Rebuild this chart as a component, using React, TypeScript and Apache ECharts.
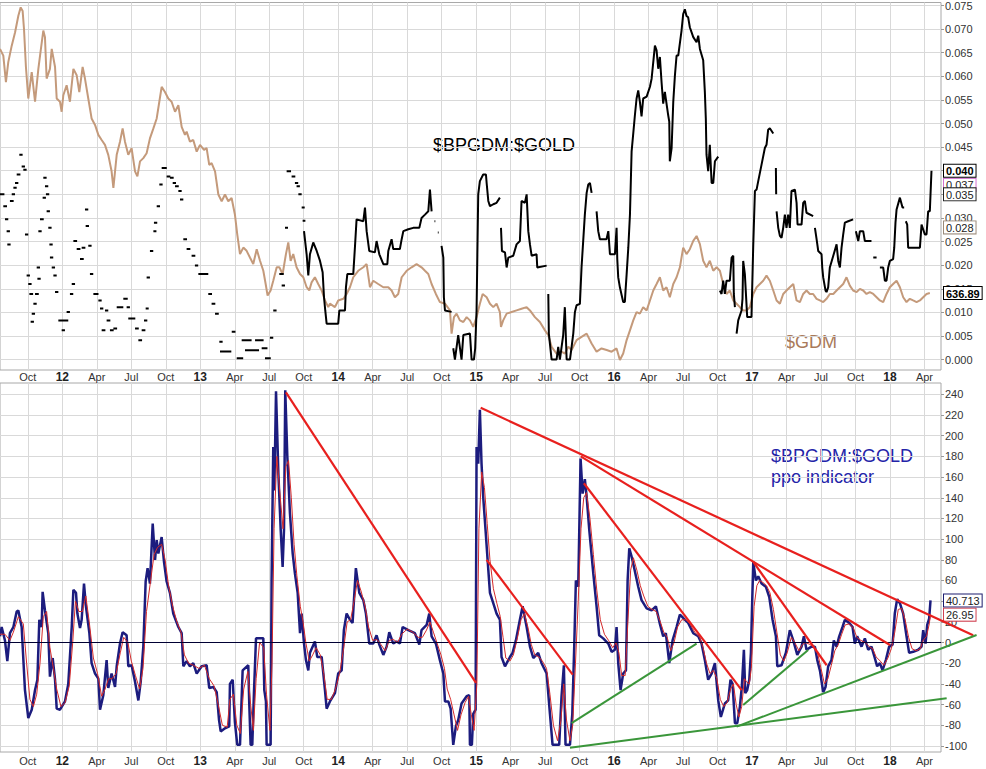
import React, { useEffect, useRef } from 'react';
import * as echarts from 'echarts';

const FONT = '"Liberation Sans", Arial, sans-serif';

// x axis in decimal years
const X_MIN = 2011.548;
const X_MAX = 2018.37;
const xTicks = [2011.75, 2012, 2012.25, 2012.5, 2012.75, 2013, 2013.25, 2013.5, 2013.75, 2014, 2014.25, 2014.5, 2014.75,
  2015, 2015.25, 2015.5, 2015.75, 2016, 2016.25, 2016.5, 2016.75, 2017, 2017.25, 2017.5, 2017.75, 2018, 2018.25];
const monthNames = ['', 'Apr', 'Jul', 'Oct'];

const topTicks = [0, 0.005, 0.01, 0.015, 0.02, 0.025, 0.03, 0.035, 0.04, 0.045, 0.05, 0.055, 0.06, 0.065, 0.07, 0.075];
const topLabelValues = [0, 0.005, 0.01, 0.015, 0.02, 0.025, 0.03, 0.045, 0.05, 0.055, 0.06, 0.065, 0.07, 0.075];
const ppoTicks = [-100, -80, -60, -40, -20, 0, 20, 40, 60, 80, 100, 120, 140, 160, 180, 200, 220, 240];
const ppoLabelValues = [-100, -80, -60, -40, -20, 0, 20, 60, 80, 100, 120, 140, 160, 180, 200, 220, 240];

const priceTagValues = [0.04, 0.037, 0.035, 0.028];
const priceTagLabels = ['0.040', '0.037', '0.035', '0.028'];
const gdmTagValues = [636.89];
const ppoTagValues = [40.713, 26.95];
const ppoTagLabels = ['40.713', '26.95'];

// $BPGDM:$GOLD sparse early prints: [year, value, length]
const bpDashes: [number, number, number][] = [
  [2011.548, 0.035, 0.02], [2011.572, 0.0325, 0.015], [2011.584, 0.0297, 0.012], [2011.596, 0.0272, 0.012], [2011.601, 0.0244, 0.012],
  [2011.62, 0.0336, 0.015], [2011.633, 0.035, 0.012], [2011.645, 0.0364, 0.012], [2011.657, 0.0374, 0.012], [2011.669, 0.0392, 0.015],
  [2011.688, 0.0434, 0.012], [2011.705, 0.0409, 0.012], [2011.717, 0.0402, 0.012], [2011.729, 0.0265, 0.012], [2011.741, 0.0178, 0.012],
  [2011.753, 0.016, 0.012], [2011.761, 0.0139, 0.015], [2011.77, 0.008, 0.012], [2011.778, 0.0097, 0.012], [2011.79, 0.0118, 0.012],
  [2011.802, 0.0139, 0.015], [2011.814, 0.0195, 0.012], [2011.819, 0.0171, 0.012], [2011.826, 0.0272, 0.012], [2011.838, 0.0297, 0.015],
  [2011.857, 0.0343, 0.012], [2011.862, 0.0385, 0.012], [2011.874, 0.0367, 0.012], [2011.881, 0.035, 0.012], [2011.886, 0.0314, 0.012],
  [2011.898, 0.0279, 0.012], [2011.906, 0.0244, 0.012], [2011.91, 0.0216, 0.012], [2011.923, 0.0195, 0.012], [2011.935, 0.0178, 0.012],
  [2011.947, 0.0143, 0.012], [2011.971, 0.0083, 0.06], [2011.995, 0.0062, 0.012], [2012.031, 0.0101, 0.012], [2012.055, 0.0139, 0.012],
  [2012.068, 0.016, 0.012], [2012.08, 0.0251, 0.015], [2012.104, 0.0234, 0.015], [2012.128, 0.0213, 0.015], [2012.14, 0.0237, 0.015],
  [2012.164, 0.0318, 0.012], [2012.169, 0.0283, 0.012], [2012.188, 0.0241, 0.012], [2012.2, 0.0181, 0.012], [2012.225, 0.0139, 0.025],
  [2012.261, 0.0125, 0.012], [2012.273, 0.0108, 0.012], [2012.285, 0.0062, 0.015], [2012.309, 0.0104, 0.012], [2012.321, 0.0083, 0.015],
  [2012.345, 0.0062, 0.015], [2012.37, 0.0066, 0.015], [2012.394, 0.0111, 0.015], [2012.418, 0.0111, 0.012], [2012.442, 0.0129, 0.02],
  [2012.466, 0.0111, 0.012], [2012.478, 0.0087, 0.015], [2012.502, 0.0087, 0.015], [2012.527, 0.0066, 0.015], [2012.551, 0.0041, 0.015],
  [2012.575, 0.0062, 0.015], [2012.592, 0.0083, 0.012], [2012.604, 0.0108, 0.01], [2012.611, 0.0174, 0.012], [2012.635, 0.023, 0.012],
  [2012.66, 0.0272, 0.01], [2012.664, 0.029, 0.012], [2012.684, 0.0325, 0.012], [2012.703, 0.0371, 0.012], [2012.72, 0.0406, 0.025],
  [2012.756, 0.0388, 0.015], [2012.78, 0.0385, 0.015], [2012.8, 0.0374, 0.012], [2012.817, 0.0367, 0.015], [2012.841, 0.0357, 0.012],
  [2012.853, 0.0339, 0.012], [2012.877, 0.0255, 0.015], [2012.901, 0.0234, 0.015], [2012.937, 0.022, 0.015], [2012.961, 0.0199, 0.012],
  [2012.986, 0.0181, 0.06], [2013.058, 0.0139, 0.015], [2013.082, 0.0118, 0.015], [2013.107, 0.0097, 0.015], [2013.138, 0.0038, 0.012],
  [2013.143, 0.0017, 0.07], [2013.228, 0.0059, 0.015], [2013.264, 0.0003, 0.035], [2013.3, 0.0041, 0.06], [2013.324, 0.002, 0.09],
  [2013.397, 0.0041, 0.05], [2013.445, 0.0024, 0.03], [2013.469, 0.0003, 0.03], [2013.505, 0.0046, 0.012], [2013.529, 0.0104, 0.012],
  [2013.573, 0.0181, 0.02], [2013.59, 0.0157, 0.012], [2013.614, 0.0279, 0.01], [2013.626, 0.0399, 0.02], [2013.662, 0.0388, 0.015],
  [2013.686, 0.0374, 0.012], [2013.698, 0.0367, 0.012], [2013.711, 0.035, 0.012], [2013.735, 0.0322, 0.01], [2013.742, 0.0294, 0.008],
];

// $BPGDM:$GOLD continuous prints (null = gap)
const bpMain: ([number, number] | null)[] = [
  [2013.752, 0.0272], [2013.771, 0.0223], [2013.783, 0.0178], [2013.795, 0.0223], [2013.819, 0.0248], [2013.844, 0.023], [2013.868, 0.0209],
  [2013.887, 0.0185], [2013.897, 0.0132], [2013.906, 0.0104], [2013.916, 0.0076], [2014.0, 0.0076], [2014.008, 0.0104], [2014.049, 0.0104],
  [2014.056, 0.0153], [2014.066, 0.0181], [2014.109, 0.0181], [2014.121, 0.0237], [2014.133, 0.0297], [2014.182, 0.0293], [2014.194, 0.0322],
  [2014.206, 0.0272], [2014.225, 0.023], [2014.266, 0.0227], [2014.278, 0.0251], [2014.298, 0.0223], [2014.327, 0.0202], [2014.356, 0.0202],
  [2014.363, 0.023], [2014.387, 0.0255], [2014.399, 0.0234], [2014.447, 0.0234], [2014.46, 0.0255], [2014.472, 0.0272], [2014.508, 0.0276],
  [2014.544, 0.0279], [2014.588, 0.0279], [2014.604, 0.03], [2014.629, 0.0307], [2014.653, 0.0314], [2014.665, 0.036], [2014.677, 0.0314],
  null, [2014.698, 0.0293], [2014.704, 0.0293], null, [2014.722, 0.0269], [2014.728, 0.0269], null,
  [2014.749, 0.0241], [2014.762, 0.0216], [2014.766, 0.0132], [2014.774, 0.0104], [2014.822, 0.0101], null,
  [2014.834, 0.0024], [2014.846, 0.0], [2014.87, 0.0052], [2014.894, 0.0], [2014.907, 0.0052], [2014.955, 0.0055], [2014.967, 0.0],
  [2014.984, 0.0], [2014.993, 0.0024], [2015.003, 0.0104], [2015.015, 0.035], [2015.027, 0.0378], [2015.051, 0.0392], [2015.071, 0.0392],
  [2015.076, 0.0374], [2015.088, 0.0336], [2015.1, 0.0325], [2015.124, 0.0329], [2015.148, 0.0332], [2015.172, 0.0343], null,
  [2015.18, 0.0279], [2015.187, 0.023], [2015.209, 0.0227], [2015.221, 0.0195], [2015.233, 0.0216], [2015.269, 0.022], [2015.293, 0.0244],
  [2015.317, 0.0251], [2015.329, 0.0336], [2015.353, 0.0332], [2015.366, 0.035], [2015.378, 0.0272], [2015.39, 0.0244], [2015.402, 0.022],
  [2015.438, 0.0223], [2015.443, 0.0195], [2015.511, 0.0199], null,
  [2015.523, 0.0139], [2015.527, 0.0055], [2015.547, 0.0], [2015.583, 0.0], [2015.595, 0.0027], [2015.607, 0.0], [2015.631, 0.0052],
  [2015.643, 0.0111], [2015.656, 0.0], [2015.68, 0.0], [2015.692, 0.0027], [2015.704, 0.0055], [2015.716, 0.0101], [2015.728, 0.0115],
  [2015.752, 0.0118], [2015.764, 0.0195], [2015.776, 0.0251], [2015.788, 0.0307], [2015.801, 0.0353], [2015.813, 0.0371], [2015.825, 0.0374],
  [2015.837, 0.0353], null,
  [2015.873, 0.0314], [2015.885, 0.0272], [2015.897, 0.0255], [2015.945, 0.0255], [2015.958, 0.0272], [2015.97, 0.0223], [2016.006, 0.0223],
  [2016.018, 0.0279], [2016.023, 0.0213], [2016.03, 0.0174], [2016.042, 0.0153], [2016.066, 0.0122], [2016.078, 0.0122], [2016.083, 0.0146],
  [2016.091, 0.0181], [2016.103, 0.0237], [2016.115, 0.0307], [2016.127, 0.0441], [2016.139, 0.0479], [2016.151, 0.0518], [2016.163, 0.0553],
  [2016.175, 0.057], [2016.187, 0.0546], [2016.199, 0.0515], [2016.211, 0.0553], [2016.236, 0.0557], [2016.26, 0.0578], [2016.272, 0.0595],
  [2016.284, 0.063], [2016.296, 0.0665], [2016.308, 0.0655], [2016.32, 0.0616], [2016.332, 0.0641], [2016.344, 0.0588], [2016.356, 0.0542],
  [2016.368, 0.0567], [2016.392, 0.0518], [2016.4, 0.0504], [2016.404, 0.042], [2016.417, 0.0448], [2016.429, 0.0546], [2016.441, 0.0602],
  [2016.453, 0.0644], [2016.465, 0.0644], [2016.489, 0.0697], [2016.501, 0.0732], [2016.513, 0.0742], [2016.525, 0.0728], [2016.537, 0.0725],
  [2016.549, 0.0704], [2016.562, 0.0693], [2016.574, 0.0683], [2016.598, 0.0672], [2016.61, 0.0686], [2016.622, 0.0658], [2016.646, 0.0634],
  [2016.658, 0.0567], [2016.665, 0.0511], [2016.67, 0.0434], [2016.682, 0.0399], [2016.694, 0.0455], [2016.707, 0.0374], [2016.719, 0.0374],
  [2016.731, 0.042], [2016.755, 0.043], null,
  [2016.767, 0.0146], [2016.779, 0.0139], [2016.791, 0.0167], [2016.803, 0.0139], [2016.815, 0.0167], [2016.839, 0.0167], [2016.852, 0.0216],
  [2016.864, 0.022], [2016.868, 0.0139], [2016.876, 0.0111], null,
  [2016.888, 0.0055], [2016.9, 0.0083], [2016.924, 0.0104], [2016.931, 0.0129], [2016.936, 0.0209], [2016.948, 0.0181], [2016.965, 0.009],
  [2016.996, 0.009], [2017.009, 0.0244], [2017.021, 0.0357], [2017.033, 0.036], [2017.045, 0.0378], [2017.069, 0.0413], [2017.093, 0.0448],
  [2017.105, 0.0455], [2017.117, 0.0487], [2017.129, 0.049], [2017.154, 0.0479], null,
  [2017.164, 0.0427], [2017.168, 0.0427], null, [2017.173, 0.0406], [2017.175, 0.035], null,
  [2017.178, 0.0314], [2017.19, 0.0279], [2017.202, 0.0262], [2017.214, 0.0258], [2017.226, 0.0279], [2017.238, 0.0307], [2017.25, 0.0279],
  [2017.262, 0.0307], [2017.274, 0.0279], [2017.286, 0.0357], [2017.311, 0.036], [2017.323, 0.0332], [2017.33, 0.0286], [2017.359, 0.0286],
  [2017.371, 0.0332], [2017.383, 0.0336], [2017.395, 0.0311], [2017.443, 0.0304], null,
  [2017.456, 0.0279], [2017.468, 0.0255], [2017.48, 0.023], [2017.504, 0.0223], [2017.509, 0.0195], [2017.516, 0.0174], [2017.533, 0.0146],
  [2017.54, 0.0143], [2017.552, 0.0153], [2017.564, 0.0195], [2017.589, 0.022], [2017.613, 0.0244], [2017.625, 0.0209], [2017.637, 0.0195],
  [2017.649, 0.0237], [2017.661, 0.0265], [2017.673, 0.029], [2017.697, 0.0293], [2017.733, 0.0297], null,
  [2017.753, 0.0272], [2017.77, 0.0251], [2017.782, 0.0272], [2017.806, 0.0272], [2017.818, 0.0251], [2017.866, 0.0251], null,
  [2017.879, 0.0216], [2017.903, 0.0216], null,
  [2017.927, 0.0195], [2017.951, 0.0195], [2017.963, 0.0167], [2017.975, 0.0167], [2017.987, 0.0195], [2017.999, 0.0209], [2018.023, 0.0213],
  [2018.031, 0.0237], [2018.04, 0.029], [2018.048, 0.0318], [2018.072, 0.0343], [2018.091, 0.0322], [2018.103, 0.0322], null,
  [2018.115, 0.0293], [2018.125, 0.0286], [2018.132, 0.0237], [2018.217, 0.0237], [2018.229, 0.0286], [2018.253, 0.0265], [2018.265, 0.0265],
  [2018.277, 0.0314], [2018.289, 0.0314], [2018.301, 0.04],
];

// $GDM
const gdm: [number, number][] = [
  [2011.548, 1690], [2011.572, 1661], [2011.591, 1547], [2011.608, 1633], [2011.633, 1704], [2011.657, 1761], [2011.681, 1833], [2011.698, 1869],
  [2011.712, 1854], [2011.722, 1776], [2011.736, 1612], [2011.753, 1476], [2011.778, 1590], [2011.802, 1462], [2011.826, 1604], [2011.843, 1683],
  [2011.862, 1769], [2011.874, 1740], [2011.886, 1562], [2011.91, 1604], [2011.923, 1690], [2011.947, 1612], [2011.959, 1476], [2011.983, 1462],
  [2011.995, 1419], [2012.007, 1490], [2012.031, 1533], [2012.055, 1462], [2012.08, 1604], [2012.104, 1576], [2012.123, 1504], [2012.147, 1612],
  [2012.164, 1562], [2012.188, 1476], [2012.212, 1390], [2012.237, 1362], [2012.261, 1319], [2012.285, 1297], [2012.309, 1276], [2012.333, 1233],
  [2012.357, 1162], [2012.37, 1090], [2012.394, 1233], [2012.418, 1290], [2012.437, 1347], [2012.454, 1290], [2012.478, 1233], [2012.502, 1262],
  [2012.527, 1162], [2012.544, 1140], [2012.563, 1205], [2012.587, 1219], [2012.611, 1240], [2012.635, 1304], [2012.66, 1347], [2012.684, 1390],
  [2012.703, 1462], [2012.72, 1526], [2012.744, 1504], [2012.768, 1476], [2012.792, 1462], [2012.817, 1419], [2012.841, 1447], [2012.865, 1354],
  [2012.889, 1319], [2012.901, 1333], [2012.925, 1290], [2012.949, 1297], [2012.974, 1247], [2012.998, 1276], [2013.027, 1254], [2013.046, 1262],
  [2013.065, 1190], [2013.082, 1197], [2013.107, 1162], [2013.131, 1062], [2013.155, 1033], [2013.179, 1062], [2013.203, 1033], [2013.227, 1047],
  [2013.251, 976], [2013.268, 890], [2013.288, 805], [2013.312, 833], [2013.336, 819], [2013.36, 790], [2013.384, 762], [2013.409, 826],
  [2013.433, 776], [2013.457, 733], [2013.474, 676], [2013.488, 626], [2013.51, 648], [2013.529, 690], [2013.554, 748], [2013.573, 748],
  [2013.597, 719], [2013.621, 805], [2013.638, 855], [2013.655, 776], [2013.674, 805], [2013.698, 748], [2013.723, 719], [2013.747, 705],
  [2013.771, 662], [2013.79, 648], [2013.807, 683], [2013.831, 705], [2013.855, 676], [2013.88, 648], [2013.904, 605], [2013.928, 576],
  [2013.94, 591], [2013.976, 576], [2014.0, 605], [2014.037, 612], [2014.061, 633], [2014.085, 662], [2014.109, 705], [2014.145, 733],
  [2014.182, 748], [2014.206, 762], [2014.23, 662], [2014.254, 690], [2014.29, 676], [2014.327, 662], [2014.363, 662], [2014.387, 648],
  [2014.411, 619], [2014.435, 633], [2014.46, 705], [2014.496, 733], [2014.532, 748], [2014.568, 762], [2014.604, 748], [2014.629, 733],
  [2014.653, 719], [2014.677, 676], [2014.708, 633], [2014.737, 598], [2014.774, 591], [2014.81, 562], [2014.822, 462], [2014.839, 533],
  [2014.858, 548], [2014.882, 519], [2014.907, 512], [2014.931, 533], [2014.955, 519], [2014.979, 491], [2015.003, 533], [2015.027, 591],
  [2015.047, 633], [2015.076, 619], [2015.1, 591], [2015.124, 576], [2015.148, 591], [2015.172, 555], [2015.18, 491], [2015.196, 519],
  [2015.221, 548], [2015.257, 555], [2015.293, 562], [2015.329, 569], [2015.366, 576], [2015.39, 562], [2015.426, 533], [2015.462, 512],
  [2015.499, 476], [2015.523, 455], [2015.547, 405], [2015.583, 376], [2015.619, 384], [2015.643, 376], [2015.668, 405], [2015.692, 391],
  [2015.728, 434], [2015.764, 448], [2015.801, 462], [2015.837, 419], [2015.873, 384], [2015.909, 398], [2015.946, 391], [2015.982, 384],
  [2016.018, 398], [2016.042, 348], [2016.066, 376], [2016.091, 434], [2016.115, 476], [2016.139, 519], [2016.163, 555], [2016.187, 548],
  [2016.211, 576], [2016.236, 562], [2016.26, 605], [2016.284, 648], [2016.308, 676], [2016.332, 705], [2016.356, 648], [2016.38, 662],
  [2016.404, 619], [2016.429, 676], [2016.453, 705], [2016.477, 748], [2016.501, 833], [2016.525, 805], [2016.549, 826], [2016.574, 862],
  [2016.598, 883], [2016.622, 848], [2016.646, 776], [2016.67, 748], [2016.694, 776], [2016.719, 733], [2016.743, 748], [2016.767, 733],
  [2016.791, 676], [2016.815, 633], [2016.839, 648], [2016.864, 605], [2016.888, 591], [2016.912, 576], [2016.936, 562], [2016.96, 562],
  [2016.984, 576], [2017.009, 633], [2017.033, 662], [2017.057, 676], [2017.081, 690], [2017.105, 712], [2017.129, 690], [2017.154, 648],
  [2017.178, 605], [2017.202, 591], [2017.226, 633], [2017.25, 648], [2017.274, 662], [2017.299, 676], [2017.323, 605], [2017.347, 598],
  [2017.371, 633], [2017.395, 648], [2017.419, 633], [2017.443, 633], [2017.468, 612], [2017.492, 605], [2017.516, 598], [2017.54, 612],
  [2017.564, 633], [2017.589, 633], [2017.613, 648], [2017.637, 662], [2017.661, 676], [2017.685, 705], [2017.709, 669], [2017.733, 648],
  [2017.758, 641], [2017.782, 655], [2017.806, 648], [2017.83, 633], [2017.854, 641], [2017.879, 633], [2017.903, 619], [2017.927, 605],
  [2017.951, 598], [2017.975, 633], [2017.999, 662], [2018.023, 676], [2018.048, 690], [2018.072, 662], [2018.096, 619], [2018.12, 598],
  [2018.144, 612], [2018.168, 605], [2018.193, 598], [2018.217, 605], [2018.241, 619], [2018.265, 633], [2018.289, 636.89],
];

// PPO line
const ppo: [number, number][] = [
  [2011.548, 6], [2011.56, 15], [2011.584, 2], [2011.601, -18], [2011.62, 9], [2011.645, 15], [2011.669, 30], [2011.681, 31], [2011.705, 15],
  [2011.729, -46], [2011.753, -73], [2011.778, -65], [2011.802, -46], [2011.819, -36], [2011.833, 22], [2011.85, 15], [2011.857, 49],
  [2011.874, 31], [2011.898, 9], [2011.91, -33], [2011.93, -15], [2011.947, -36], [2011.959, -64], [2011.983, -65], [2012.019, -57],
  [2012.043, -40], [2012.068, 15], [2012.08, 51], [2012.099, 48], [2012.109, 28], [2012.128, 14], [2012.14, 22], [2012.157, 57], [2012.171, 35],
  [2012.196, 9], [2012.212, -20], [2012.237, -30], [2012.261, -35], [2012.273, -65], [2012.297, -51], [2012.321, -17], [2012.333, -44],
  [2012.357, -30], [2012.382, -43], [2012.394, -23], [2012.418, -1], [2012.437, 10], [2012.466, 7], [2012.478, -23], [2012.502, -22],
  [2012.527, -38], [2012.551, -56], [2012.568, -38], [2012.587, -4], [2012.604, 59], [2012.618, 72], [2012.635, 57], [2012.655, 115],
  [2012.672, 80], [2012.684, 99], [2012.696, 86], [2012.72, 102], [2012.737, 78], [2012.756, 59], [2012.78, 48], [2012.804, 28], [2012.841, 15],
  [2012.865, 9], [2012.877, -23], [2012.901, -18], [2012.925, -23], [2012.949, -20], [2012.974, -30], [2013.01, -23], [2013.046, -22],
  [2013.065, -44], [2013.095, -43], [2013.119, -48], [2013.136, -75], [2013.148, -86], [2013.179, -83], [2013.21, -81], [2013.215, -40],
  [2013.235, -36], [2013.251, -77], [2013.268, -99], [2013.288, -99], [2013.307, -27], [2013.348, -22], [2013.355, -59], [2013.365, -99],
  [2013.377, -99], [2013.389, -49], [2013.404, 4], [2013.457, 4], [2013.464, -46], [2013.476, -57], [2013.481, -99], [2013.51, -99],
  [2013.517, 60], [2013.529, 189], [2013.537, 147], [2013.549, 243], [2013.566, 164], [2013.583, 109], [2013.597, 73], [2013.607, 109],
  [2013.616, 244], [2013.631, 180], [2013.65, 125], [2013.67, 86], [2013.686, 67], [2013.706, 48], [2013.723, 9], [2013.735, 28],
  [2013.752, -1], [2013.766, -17], [2013.783, -27], [2013.795, -10], [2013.831, 1], [2013.848, -14], [2013.88, -14], [2013.904, -46],
  [2013.916, -64], [2013.94, -57], [2013.976, -49], [2014.0, -30], [2014.025, -27], [2014.041, 12], [2014.061, 28], [2014.085, 22],
  [2014.104, 19], [2014.128, 72], [2014.153, 48], [2014.182, 41], [2014.201, 28], [2014.225, -1], [2014.254, -1], [2014.278, 7],
  [2014.298, -2], [2014.327, -12], [2014.351, -4], [2014.37, 10], [2014.399, -1], [2014.423, 1], [2014.447, -1], [2014.467, 15],
  [2014.508, 12], [2014.556, 9], [2014.588, -2], [2014.604, 12], [2014.641, 17], [2014.66, 28], [2014.677, 6], [2014.708, -1],
  [2014.737, -17], [2014.762, -30], [2014.774, -57], [2014.798, -57], [2014.815, -64], [2014.834, -99], [2014.853, -81], [2014.87, -75],
  [2014.894, -59], [2014.931, -52], [2014.95, -51], [2014.955, -99], [2014.969, -99], [2014.979, -69], [2014.996, -65], [2015.003, 189],
  [2015.015, 173], [2015.027, 225], [2015.039, 173], [2015.051, 141], [2015.068, 109], [2015.083, 80], [2015.1, 48], [2015.124, 38],
  [2015.148, 28], [2015.172, 22], [2015.184, -14], [2015.209, -23], [2015.245, -14], [2015.264, -10], [2015.288, 2], [2015.317, 22],
  [2015.337, 35], [2015.366, 15], [2015.39, -4], [2015.414, -15], [2015.45, -10], [2015.474, -20], [2015.511, -30], [2015.535, -69],
  [2015.554, -99], [2015.602, -99], [2015.619, -52], [2015.636, -22], [2015.648, -99], [2015.68, -99], [2015.697, -69], [2015.711, -4],
  [2015.723, 60], [2015.74, 54], [2015.757, 178], [2015.772, 144], [2015.788, 158], [2015.801, 141], [2015.82, 109], [2015.849, 67],
  [2015.873, 35], [2015.892, 7], [2015.921, 4], [2015.958, -1], [2015.982, -9], [2016.006, -7], [2016.018, 15], [2016.03, -20],
  [2016.047, -46], [2016.066, -30], [2016.086, -27], [2016.098, 60], [2016.11, 91], [2016.127, 83], [2016.144, 73], [2016.175, 54],
  [2016.199, 41], [2016.236, 33], [2016.272, 31], [2016.303, 35], [2016.332, 18], [2016.356, 6], [2016.375, 9], [2016.4, -20],
  [2016.424, 2], [2016.453, 15], [2016.477, 27], [2016.506, 23], [2016.537, 19], [2016.574, 9], [2016.61, 6], [2016.634, -1],
  [2016.658, -17], [2016.682, -36], [2016.707, -30], [2016.731, -20], [2016.755, -56], [2016.774, -72], [2016.803, -59], [2016.827, -56],
  [2016.844, -36], [2016.859, -40], [2016.876, -78], [2016.893, -78], [2016.912, -62], [2016.926, -43], [2016.941, -7], [2016.951, -49],
  [2016.965, -46], [2016.98, -36], [2016.992, -10], [2016.999, 28], [2017.009, 78], [2017.028, 60], [2017.045, 64], [2017.069, 57],
  [2017.1, 54], [2017.125, 44], [2017.149, 22], [2017.173, 6], [2017.183, -23], [2017.214, -22], [2017.245, -10], [2017.274, 12],
  [2017.299, 2], [2017.328, -12], [2017.359, -4], [2017.376, 6], [2017.395, -7], [2017.431, -4], [2017.456, -4], [2017.473, -17],
  [2017.492, -27], [2017.516, -48], [2017.533, -43], [2017.552, -23], [2017.576, -17], [2017.593, 2], [2017.613, -4], [2017.632, 6],
  [2017.656, 15], [2017.673, 22], [2017.704, 19], [2017.729, 15], [2017.745, -1], [2017.762, 6], [2017.794, -4], [2017.818, 4],
  [2017.842, -7], [2017.866, -4], [2017.89, -15], [2017.907, -23], [2017.927, -20], [2017.946, -27], [2017.97, -17], [2017.994, -4],
  [2018.019, -2], [2018.035, 28], [2018.052, 42], [2018.072, 38], [2018.096, 28], [2018.12, 6], [2018.139, -10], [2018.168, -9],
  [2018.205, -7], [2018.229, -4], [2018.241, 12], [2018.258, -1], [2018.27, 17], [2018.284, 23], [2018.294, 40.713],
];

// PPO signal line
const signal: [number, number][] = [
  [2011.548, 8], [2011.584, 8], [2011.62, 2], [2011.645, 10], [2011.681, 25], [2011.717, 18], [2011.741, -20], [2011.765, -55],
  [2011.79, -62], [2011.814, -50], [2011.838, -20], [2011.862, 25], [2011.886, 30], [2011.91, -5], [2011.935, -25], [2011.959, -45],
  [2011.99, -62], [2012.02, -58], [2012.05, -42], [2012.075, 0], [2012.095, 40], [2012.12, 30], [2012.145, 30], [2012.17, 45],
  [2012.195, 20], [2012.225, -15], [2012.255, -30], [2012.285, -52], [2012.31, -45], [2012.335, -35], [2012.36, -35], [2012.39, -30],
  [2012.42, -10], [2012.445, 5], [2012.475, 0], [2012.5, -18], [2012.53, -32], [2012.56, -45], [2012.585, -25], [2012.61, 30],
  [2012.64, 60], [2012.665, 85], [2012.69, 92], [2012.72, 95], [2012.745, 80], [2012.77, 55], [2012.8, 35], [2012.83, 20],
  [2012.86, 10], [2012.885, -12], [2012.915, -20], [2012.95, -22], [2012.99, -25], [2013.03, -22], [2013.065, -35], [2013.1, -42],
  [2013.13, -60], [2013.16, -80], [2013.195, -82], [2013.215, -55], [2013.24, -50], [2013.265, -80], [2013.29, -88], [2013.315, -45],
  [2013.345, -28], [2013.365, -60], [2013.385, -85], [2013.405, -35], [2013.43, 0], [2013.46, -5], [2013.48, -50], [2013.505, -85],
  [2013.52, -20], [2013.535, 110], [2013.555, 180], [2013.58, 140], [2013.6, 110], [2013.62, 170], [2013.64, 176], [2013.66, 140],
  [2013.68, 95], [2013.7, 65], [2013.725, 35], [2013.745, 20], [2013.765, 0], [2013.79, -18], [2013.815, -12], [2013.84, -5],
  [2013.87, -12], [2013.895, -30], [2013.92, -55], [2013.95, -55], [2013.98, -45], [2014.01, -30], [2014.04, -5], [2014.065, 20],
  [2014.09, 22], [2014.115, 40], [2014.14, 60], [2014.165, 50], [2014.195, 35], [2014.22, 15], [2014.25, 2], [2014.28, 3],
  [2014.31, -2], [2014.34, -8], [2014.37, 2], [2014.4, 3], [2014.43, 0], [2014.46, 8], [2014.5, 13], [2014.54, 10], [2014.58, 5],
  [2014.61, 5], [2014.64, 12], [2014.665, 20], [2014.69, 10], [2014.715, 0], [2014.745, -12], [2014.77, -25], [2014.79, -45],
  [2014.815, -55], [2014.84, -70], [2014.865, -85], [2014.89, -70], [2014.92, -58], [2014.945, -52], [2014.965, -70], [2014.985, -85],
  [2015.005, -40], [2015.02, 110], [2015.04, 165], [2015.06, 150], [2015.08, 115], [2015.1, 80], [2015.125, 52], [2015.15, 38],
  [2015.175, 25], [2015.195, 5], [2015.215, -15], [2015.245, -18], [2015.27, -12], [2015.3, 5], [2015.325, 22], [2015.35, 28],
  [2015.375, 15], [2015.4, -2], [2015.425, -12], [2015.455, -14], [2015.48, -18], [2015.51, -25], [2015.535, -50], [2015.56, -80],
  [2015.59, -95], [2015.615, -75], [2015.635, -40], [2015.655, -75], [2015.68, -95], [2015.7, -80], [2015.72, -20], [2015.74, 40],
  [2015.76, 110], [2015.78, 140], [2015.8, 145], [2015.825, 120], [2015.85, 85], [2015.875, 50], [2015.9, 22], [2015.93, 8],
  [2015.96, 2], [2015.99, -5], [2016.015, 0], [2016.035, -10], [2016.055, -32], [2016.08, -32], [2016.1, 20], [2016.12, 70],
  [2016.14, 82], [2016.165, 70], [2016.19, 55], [2016.215, 45], [2016.245, 35], [2016.275, 32], [2016.305, 30], [2016.335, 20],
  [2016.36, 10], [2016.385, 5], [2016.41, -8], [2016.435, 0], [2016.46, 15], [2016.49, 22], [2016.52, 22], [2016.55, 18],
  [2016.585, 10], [2016.62, 5], [2016.645, -5], [2016.67, -20], [2016.695, -30], [2016.72, -27], [2016.745, -35], [2016.77, -55],
  [2016.795, -62], [2016.82, -58], [2016.845, -45], [2016.865, -40], [2016.885, -60], [2016.905, -72], [2016.925, -62], [2016.945, -35],
  [2016.96, -38], [2016.98, -40], [2016.995, -25], [2017.015, 35], [2017.035, 55], [2017.055, 60], [2017.08, 58], [2017.105, 55],
  [2017.13, 48], [2017.155, 32], [2017.18, 10], [2017.205, -12], [2017.23, -18], [2017.255, -10], [2017.285, 5], [2017.31, 0],
  [2017.34, -8], [2017.365, -2], [2017.39, 0], [2017.42, -2], [2017.45, -4], [2017.475, -10], [2017.5, -25], [2017.525, -40],
  [2017.55, -35], [2017.575, -22], [2017.6, -8], [2017.625, -2], [2017.65, 8], [2017.675, 17], [2017.705, 18], [2017.735, 14],
  [2017.76, 5], [2017.79, 2], [2017.82, 0], [2017.85, -4], [2017.875, -6], [2017.9, -14], [2017.93, -18], [2017.955, -22],
  [2017.985, -15], [2018.01, -6], [2018.035, 10], [2018.06, 32], [2018.085, 33], [2018.11, 22], [2018.135, 5], [2018.16, -6],
  [2018.19, -8], [2018.22, -6], [2018.24, 2], [2018.265, 6], [2018.285, 18], [2018.294, 26.95],
];

// hand-drawn trend lines on the PPO panel: [[x1, y1], [x2, y2]]
const redLines: [number, number][][] = [
  [[2013.621, 242], [2014.999, -39]],
  [[2015.033, 227], [2018.603, 7]],
  [[2015.758, 180], [2018.0, -2.4]],
  [[2015.781, 154], [2016.925, -46]],
  [[2015.076, 80], [2015.7, -31]],
  [[2017.009, 78], [2017.541, -22]],
];
const greenLines: [number, number][][] = [
  [[2015.692, -78], [2016.598, -1]],
  [[2015.68, -101.7], [2018.411, -54]],
  [[2016.888, -81.4], [2018.628, 7.3]],
  [[2016.936, -60.4], [2017.407, -7.3]],
];

const DASH_EXTRA = 0.012; // visual width added to each early print

function withGaps(pts: ([number, number] | null)[]) {
  const out: any[] = [];
  let lastX = 0;
  for (const p of pts) {
    if (p === null) out.push([lastX + 0.0005, '-']);
    else { out.push(p); lastX = p[0]; }
  }
  return out;
}
function dashData(list: [number, number, number][]) {
  const out: any[] = [];
  for (const [x, v, len] of list) {
    const w = len + DASH_EXTRA;
    out.push([x, v], [x + w, v], [x + w + 0.0005, '-']);
  }
  return out;
}
function xLabel(v: number) {
  const q = Math.round(v * 4);
  const yr = Math.floor(q / 4);
  const m = q - yr * 4;
  if (m === 0) return `{y|${String(yr).slice(2)}}`;
  return monthNames[m];
}
function closest(arr: number[], v: number) {
  let bi = 0;
  for (let i = 0; i < arr.length; i++) if (Math.abs(arr[i] - v) < Math.abs(arr[bi] - v)) bi = i;
  return bi;
}

const gridLineColor = '#d9d9d9';
const labelColor = '#333';

function makeXAxis(gridIndex: number, margin: number) {
  return {
    type: 'value', gridIndex, min: X_MIN, max: X_MAX,
    axisLine: { show: false },
    axisTick: { show: false, customValues: xTicks },
    axisLabel: {
      customValues: xTicks, formatter: xLabel, color: labelColor, fontSize: 11, fontFamily: FONT, margin,
      rich: { y: { fontWeight: 'bold', fontSize: 12, color: '#222', fontFamily: FONT } },
    },
    splitLine: { show: true, lineStyle: { color: gridLineColor, width: 1 } },
  };
}

const tagBase = { fontFamily: FONT, fontSize: 11, color: '#222', backgroundColor: '#fff', borderWidth: 1, padding: [1, 2, 0, 2] };

const textGraphics = [
  { type: 'text', x: 433, y: 145, style: { text: '$BPGDM:$GOLD', fontSize: 18, fontFamily: FONT, fill: '#000', verticalAlign: 'middle' } },
  { type: 'text', x: 785, y: 342, style: { text: '$GDM', fontSize: 18, fontFamily: FONT, fill: '#a97a5a', verticalAlign: 'middle' } },
  { type: 'text', x: 771, y: 456, style: { text: '$BPGDM:$GOLD', fontSize: 18, fontFamily: FONT, fill: '#2424a8', verticalAlign: 'middle' } },
  { type: 'text', x: 771, y: 477, style: { text: 'ppo indicator', fontSize: 18, fontFamily: FONT, fill: '#2424a8', verticalAlign: 'middle' } },
];

const option: any = {
  animation: false,
  backgroundColor: '#fff',
  grid: [
    { left: 0, right: 45, top: 0, height: 370, show: true, borderColor: '#a8a8a8', borderWidth: 1 },
    { left: 0, right: 45, top: 383, height: 369, show: true, borderColor: '#a8a8a8', borderWidth: 1 },
  ],
  xAxis: [makeXAxis(0, 1), makeXAxis(1, 3)],
  yAxis: [
    {
      type: 'value', gridIndex: 0, position: 'right', min: -0.00221, max: 0.07563,
      axisLine: { show: false },
      axisTick: { show: true, length: 3, customValues: topTicks, lineStyle: { color: '#999' } },
      axisLabel: { customValues: topLabelValues, formatter: (v: number) => v.toFixed(3), color: labelColor, fontSize: 11, fontFamily: FONT, margin: 4 },
      splitLine: { show: true, lineStyle: { color: gridLineColor, width: 1 } },
    },
    {
      type: 'value', gridIndex: 0, position: 'right', min: 305, max: 1890,
      axisLine: { show: false }, axisTick: { show: false, customValues: gdmTagValues }, splitLine: { show: false },
      axisLabel: {
        customValues: gdmTagValues, margin: 3,
        formatter: (v: number) => `{g|${v.toFixed(2)}}`,
        rich: { g: { ...tagBase, fontWeight: 'bold', color: '#000', borderColor: '#000' } },
      },
      z: 5,
    },
    {
      type: 'value', gridIndex: 0, position: 'right', min: -0.00221, max: 0.07563,
      axisLine: { show: false }, axisTick: { show: false, customValues: priceTagValues }, splitLine: { show: false },
      axisLabel: {
        customValues: priceTagValues, margin: 3,
        formatter: (v: number) => { const i = closest(priceTagValues, v); return `{t${i}|${priceTagLabels[i]}}`; },
        rich: {
          t0: { ...tagBase, fontWeight: 'bold', color: '#000', borderColor: '#000' },
          t1: { ...tagBase, borderColor: '#d070d0' },
          t2: { ...tagBase, borderColor: '#222' },
          t3: { ...tagBase, borderColor: '#9a8a7a' },
        },
      },
      z: 5,
    },
    {
      type: 'value', gridIndex: 1, position: 'right', min: -105.9, max: 251,
      axisLine: { show: false },
      axisTick: { show: true, length: 3, customValues: ppoTicks, lineStyle: { color: '#999' } },
      axisLabel: { customValues: ppoLabelValues, color: labelColor, fontSize: 11, fontFamily: FONT, margin: 4 },
      splitLine: { show: true, lineStyle: { color: gridLineColor, width: 1 } },
    },
    {
      type: 'value', gridIndex: 1, position: 'right', min: -105.9, max: 251,
      axisLine: { show: false }, axisTick: { show: false, customValues: ppoTagValues }, splitLine: { show: false },
      axisLabel: {
        customValues: ppoTagValues, margin: 3,
        formatter: (v: number) => { const i = closest(ppoTagValues, v); return `{p${i}|${ppoTagLabels[i]}}`; },
        rich: {
          p0: { ...tagBase, borderColor: '#1c1c6e' },
          p1: { ...tagBase, borderColor: '#d04050' },
        },
      },
      z: 5,
    },
  ],
  graphic: textGraphics,
  series: [
    {
      type: 'line', xAxisIndex: 0, yAxisIndex: 1, data: gdm, symbol: 'none', silent: true,
      lineStyle: { color: '#c49a7b', width: 2 },
    },
    {
      type: 'line', xAxisIndex: 0, yAxisIndex: 0, data: dashData(bpDashes), symbol: 'none', silent: true, connectNulls: false,
      lineStyle: { color: '#000', width: 2 },
    },
    {
      type: 'line', xAxisIndex: 0, yAxisIndex: 0, data: withGaps(bpMain), symbol: 'none', silent: true, connectNulls: false,
      lineStyle: { color: '#000', width: 2 },
    },
    {
      type: 'line', xAxisIndex: 1, yAxisIndex: 3, data: ppo, symbol: 'none', silent: true,
      lineStyle: { color: '#1c1c7e', width: 2.5 },
      markLine: {
        silent: true, symbol: 'none', label: { show: false },
        lineStyle: { color: '#000033', width: 1, type: 'solid' },
        data: [{ yAxis: 0 }],
      },
    },
    {
      type: 'line', xAxisIndex: 1, yAxisIndex: 3, data: signal, symbol: 'none', silent: true,
      lineStyle: { color: '#d42a2a', width: 1 },
    },
  ],
};

export default function App() {
  const ref = useRef<HTMLDivElement>(null);
  useEffect(() => {
    const chart = echarts.init(ref.current!, null, { renderer: 'svg' });
    chart.setOption(option);
    const finder = { xAxisIndex: 1, yAxisIndex: 3 };
    const mk = (seg: [number, number][], color: string, width: number) => {
      const a = chart.convertToPixel(finder, seg[0]) as number[];
      const b = chart.convertToPixel(finder, seg[1]) as number[];
      return {
        type: 'line', z: 10, silent: true,
        shape: { x1: a[0], y1: a[1], x2: b[0], y2: b[1] },
        style: { stroke: color, lineWidth: width },
      };
    };
    const trend = [
      ...redLines.map((s) => mk(s, '#e8201e', 2.2)),
      ...greenLines.map((s) => mk(s, '#3a963a', 2)),
    ];
    chart.setOption({ graphic: [...textGraphics, ...trend] });
    return () => chart.dispose();
  }, []);
  return <div ref={ref} style={{ position: 'absolute', left: 0, top: 0, width: 986, height: 769, background: '#fff' }} />;
}
